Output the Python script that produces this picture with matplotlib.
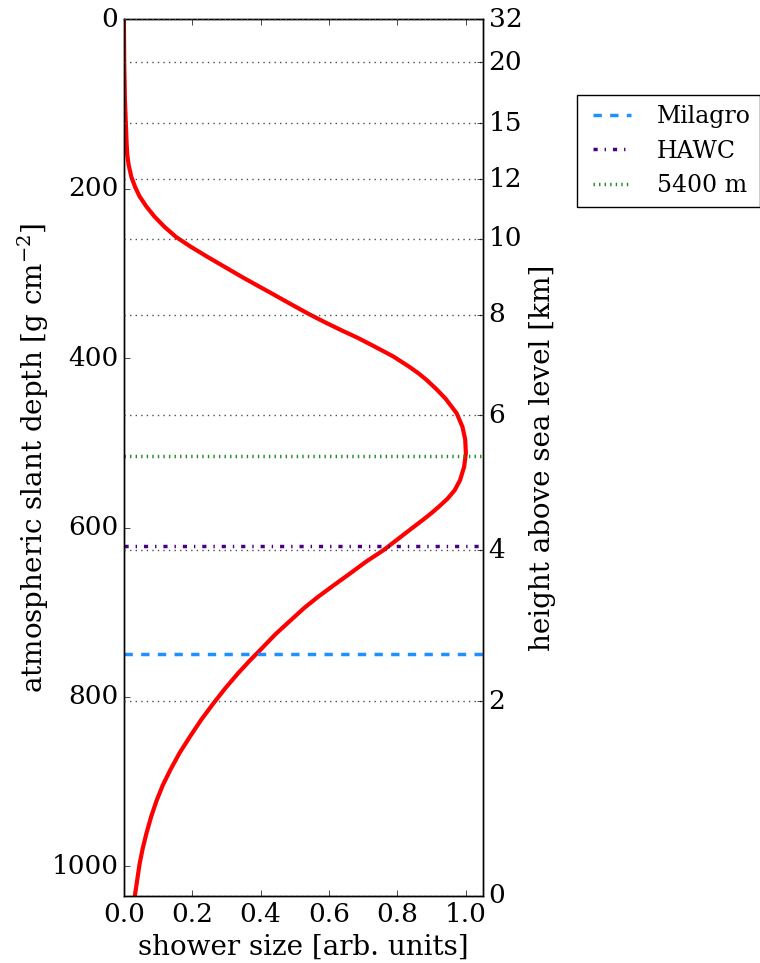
import matplotlib
matplotlib.use("Agg")
import matplotlib.pyplot as plt

plt.style.use('classic')
plt.rcParams['font.family'] = 'serif'
plt.rcParams['font.serif'] = ['DejaVu Serif']
plt.rcParams['mathtext.fontset'] = 'dejavuserif'
plt.rcParams['font.size'] = 19

# shower profile: slant depth [g/cm2] vs size
depth = [0, 50, 95, 146, 160, 172, 186, 198, 209, 221, 233, 245, 257, 268, 280,
         292, 304, 313, 323, 335, 347, 357, 367, 376, 386, 398, 410, 418, 426,
         437, 448, 465, 481, 496, 512, 528, 544, 556, 566, 575, 583, 591, 599,
         613, 627, 640, 654, 668, 682, 695, 709, 726, 744, 758, 772, 790, 808,
         827, 847, 866, 886, 904, 922, 941, 961, 979, 997, 1016, 1035]
size = [0.0, 0.001, 0.003, 0.008, 0.010, 0.014, 0.022, 0.033, 0.046, 0.066,
        0.09, 0.119, 0.153, 0.194, 0.243, 0.294, 0.345, 0.385, 0.43, 0.483,
        0.537, 0.585, 0.636, 0.684, 0.732, 0.788, 0.834, 0.862, 0.886, 0.915,
        0.941, 0.973, 0.99, 0.998, 1.0, 0.995, 0.983, 0.967, 0.946, 0.922,
        0.899, 0.874, 0.848, 0.803, 0.758, 0.709, 0.662, 0.614, 0.567, 0.527,
        0.489, 0.443, 0.4, 0.366, 0.334, 0.296, 0.261, 0.226, 0.193, 0.163,
        0.136, 0.114, 0.096, 0.08, 0.066, 0.055, 0.046, 0.039, 0.032]

# height axis on the right
height_depth = [0, 50.5, 122.6, 188.4, 258.9, 348.6, 467.5, 627, 805.3, 1035]
height_labels = ['32', '20', '15', '12', '10', '8', '6', '4', '2', '0']

# detector levels
sites = ['Milagro', 'HAWC', '5400 m']
site_depth = [749.8, 621.5, 515.2]
site_style = ['--', '-.', ':']
site_color = ['dodgerblue', 'indigo', 'forestgreen']

fig = plt.figure(figsize=(7.6, 9.63), facecolor='white')
ax = fig.add_axes([0.163, 0.0696, 0.4725, 0.9102])
ax.plot(size, depth, color='red', lw=3)
for name, d, ls, c in zip(sites, site_depth, site_style, site_color):
    ax.axhline(d, ls=ls, color=c, lw=2.5, label=name)
ax.set_xlim(0, 1.05)
ax.set_ylim(1035, 0)
ax.set_xticks([0.0, 0.2, 0.4, 0.6, 0.8, 1.0])
ax.set_yticks([0, 200, 400, 600, 800, 1000])
ax.yaxis.set_ticks_position('left')
ax.set_xlabel('shower size [arb. units]', fontsize=20)
ax.set_ylabel('atmospheric slant depth [g cm$^{-2}$]', fontsize=20, labelpad=0)

ax2 = ax.twinx()
ax2.set_ylim(1035, 0)
ax2.set_yticks(height_depth)
ax2.set_yticklabels(height_labels)
ax2.yaxis.set_ticks_position('right')
ax2.yaxis.grid(True, ls=':', color='0.3', lw=1)
ax2.set_ylabel('height above sea level [km]', fontsize=20)

leg = ax.legend(loc='upper left', bbox_to_anchor=(0.759, 0.901),
                bbox_transform=fig.transFigure, borderaxespad=0,
                fontsize=17, handlelength=2.2)
leg.get_frame().set_edgecolor('black')

fig.savefig('out.png', dpi=100, facecolor='white')
